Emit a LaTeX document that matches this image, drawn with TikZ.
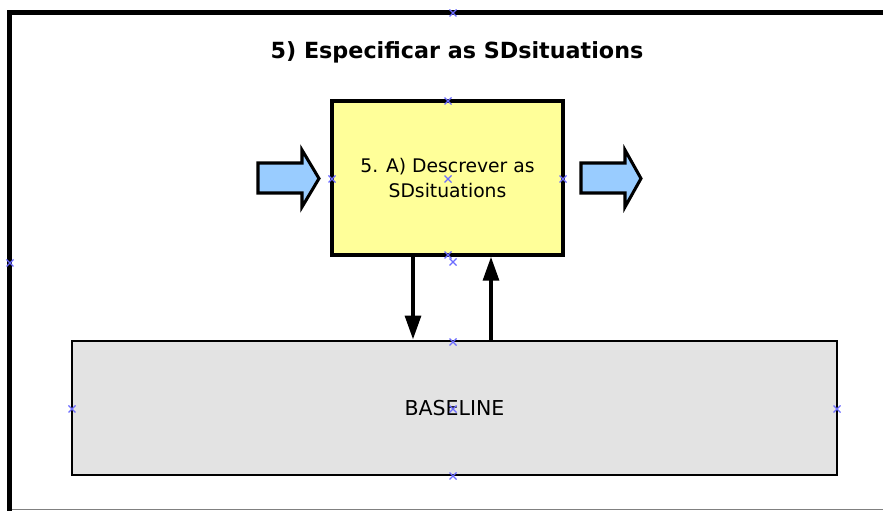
\documentclass[tikz,border=0pt]{standalone}
\usepackage{fontspec}
\setmainfont{DejaVu Sans}
\usepackage{tikz}
\usetikzlibrary{arrows.meta}
\definecolor{boxyellow}{HTML}{FFFF99}
\definecolor{boxgray}{HTML}{E3E3E3}
\definecolor{arrowblue}{HTML}{99CCFF}
\definecolor{handleblue}{HTML}{6C6CFF}
\tikzset{
    title/.style = {font=\fontsize{19}{22}\selectfont\bfseries},
    activity/.style = {rectangle, minimum width=6.93cm, minimum height=4.62cm, draw=black, line width=2.8pt, fill=boxyellow, align=center, font=\fontsize{16}{21}\selectfont},
    store/.style = {rectangle, minimum width=22.95cm, minimum height=4.02cm, draw=black, line width=2.4pt, fill=boxgray, font=\fontsize{17.5}{20}\selectfont},
    blockarrow/.style = {draw=black, line width=2.6pt, fill=arrowblue, line join=miter},
    arrow/.style = {line width=3.4pt, -{Triangle[length=0.72cm,width=0.47cm]}},
    handle/.style = {draw=handleblue, line width=1pt}
}

\begin{document}
\begin{tikzpicture}[x=0.03cm, y=-0.03cm]
\useasboundingbox (0,0) rectangle (883,511);
% frame
\begin{scope}
\clip (0,0) rectangle (883,511);
\draw [gray, line width=0.8pt] (10,509.5) -- (883,509.5);
\draw [line width=4.6pt] (9.5,520) -- (9.5,12.5) -- (900,12.5);
\end{scope}

\node (title) [title] at (457,52) {5) Especificar as SDsituations};
\node (describe) [activity] at (447.5,178) {5. A) Descrever as\\SDsituations};
\node (baseline) [store] at (454.5,408) {BASELINE};

% input and output
\draw [blockarrow] (258,163) -- (302,163) -- (302,150) -- (319,178.5) -- (302,207) -- (302,193) -- (258,193) -- cycle;
\draw [blockarrow] (581,163) -- (625,163) -- (625,150) -- (641,178.5) -- (625,207) -- (625,193) -- (581,193) -- cycle;

\draw [arrow] ([xshift=-1.035cm]describe.south) -- ([xshift=-1.035cm]describe.south |- baseline.north);
\draw [arrow] ([xshift=1.305cm]describe.south |- baseline.north) -- ([xshift=1.305cm]describe.south);

% selection handles
\foreach \hx/\hy in {453/13, 448/101, 332/179, 448/179, 563/179, 448/255, 453/262, 10/263, 453/342, 72/409, 837/409, 453/409, 453/476}
  \draw [handle] (\hx-3.5,\hy-3.5) -- (\hx+3.5,\hy+3.5) (\hx-3.5,\hy+3.5) -- (\hx+3.5,\hy-3.5);
\end{tikzpicture}
\end{document}
